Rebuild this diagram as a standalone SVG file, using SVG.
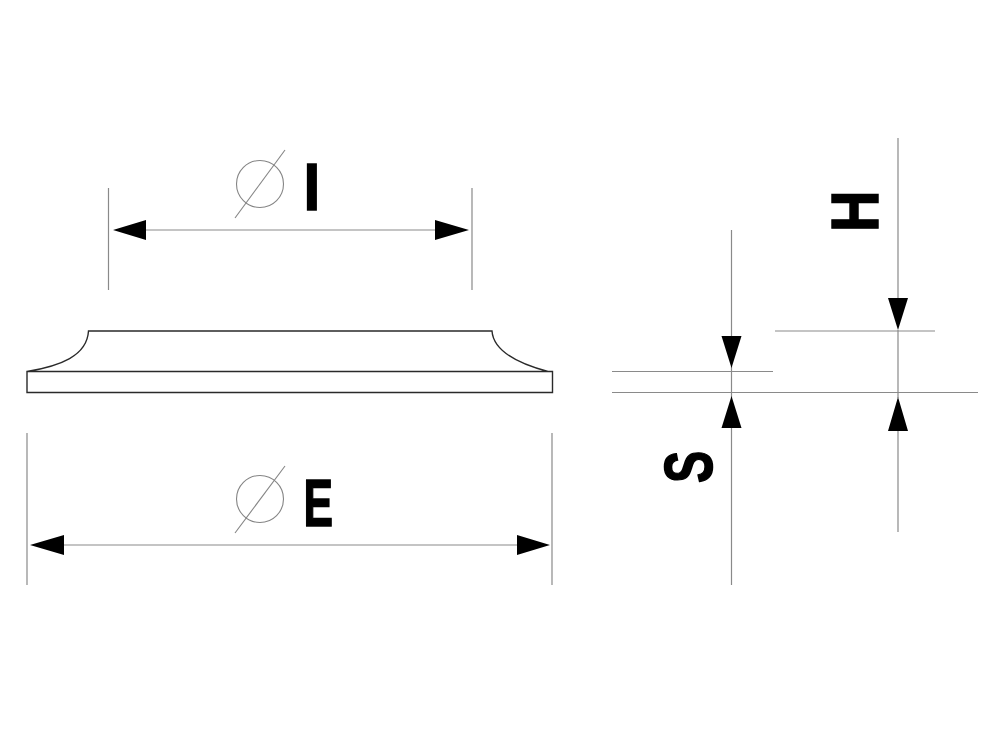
<svg xmlns="http://www.w3.org/2000/svg" width="1000" height="750" viewBox="0 0 1000 750">
<defs>
<style>
.d{stroke:#8a8a8a;stroke-width:1.2;fill:none}
.t{stroke:#858585;stroke-width:1.1;fill:none}
.o{stroke:#2a2a2a;stroke-width:1.4;fill:none}
.a{fill:#000;stroke:none}
.l{font-family:"Liberation Sans",Arial,sans-serif;font-weight:700;font-size:67px;fill:#000;stroke:#000;stroke-width:1.5}
</style>
</defs>
<rect width="1000" height="750" fill="#fff"/>
<g id="part">
<path class="o" d="M27 371.500H552.500V392.500H27ZM27 371.500C60 366 87 356 88.500 331H492C493.500 352 520 364 548 371.500"/>
</g>
<g id="connectors">
<path class="d" d="M108.500 188V290M472 188V290M146 230H436M27 433V585M552 433V585M64 545H517"/>
<path class="d" d="M612 371.500H773M612 392.500H978M775 331H935M731.500 230V338M731.500 366V398M731.500 428V585M898 138V298M898 330V398M898 431V532"/>
<path class="a" d="M113 230L146 220V240ZM469 230L435 220V240ZM30 545L64 535V555ZM550 545L517 535V555Z"/>
<path class="a" d="M731.500 368L721.500 336H741.500ZM731.500 396L721.500 428H741.500ZM898 330L888 298H908ZM898 397L888 431H908Z"/>
</g>
<g id="dia-i">
<circle class="t" cx="260" cy="184" r="23.500"/>
<path class="t" d="M285 150L235 218"/>
<text class="l" transform="translate(303.500 209.500) scale(.9 1)">I</text>
</g>
<g id="dia-e">
<circle class="t" cx="260" cy="499" r="23.500"/>
<path class="t" d="M285 466L235 533"/>
<text class="l" transform="translate(303.500 525.500) scale(.66 1)">E</text>
</g>
<g id="dim-h">
<text class="l" transform="translate(877.500 232) rotate(-90) scale(.86 1)">H</text>
</g>
<g id="dim-s">
<text class="l" transform="translate(712 483) rotate(-90) scale(.72 1.03)">S</text>
</g>
</svg>
